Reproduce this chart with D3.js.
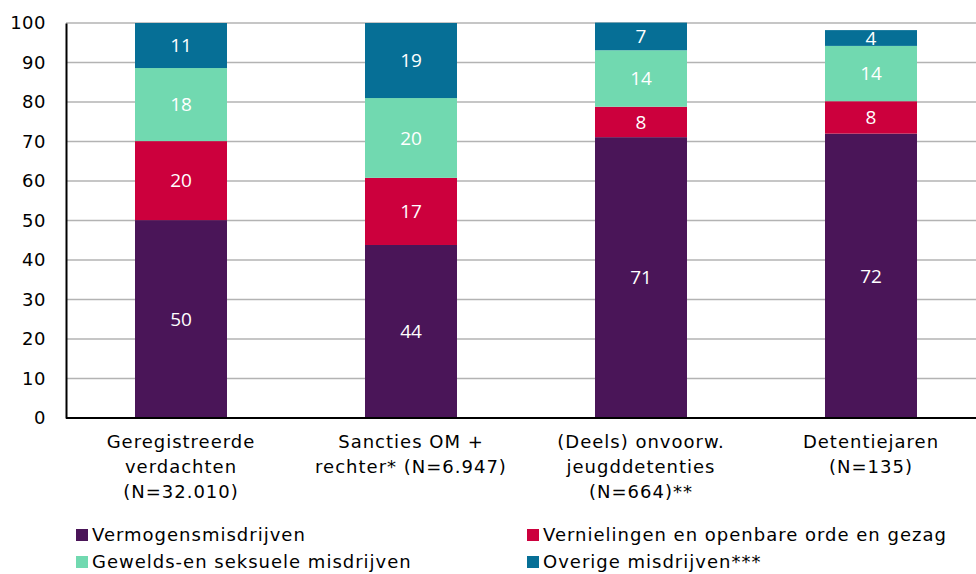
<!DOCTYPE html>
<html>
<head>
<meta charset="utf-8">
<script src="https://cdn.jsdelivr.net/npm/d3@7"></script>
<style>
  body { margin: 0; background: #fff; }
  text { font-family: "DejaVu Sans", Verdana, sans-serif; }
</style>
</head>
<body>
<div id="container"></div>
<script>
// Data
const categories = [
  ["Geregistreerde", "verdachten", "(N=32.010)"],
  ["Sancties OM +", "rechter*  (N=6.947)"],
  ["(Deels) onvoorw.", "jeugddetenties", "(N=664)**"],
  ["Detentiejaren", "(N=135)"]
];
const seriesNames = ["Vermogensmisdrijven", "Vernielingen en openbare orde en gezag", "Gewelds-en seksuele misdrijven", "Overige misdrijven***"];
const vermogens = [50.1, 43.8, 71.1, 72.0];
const vernielingen = [20.0, 17.0, 7.7, 8.2];
const geweld = [18.5, 20.2, 14.3, 14.0];
const overige = [11.4, 19.0, 7.0, 4.0];
const labels = [
  [50, 44, 71, 72],
  [20, 17, 8, 8],
  [18, 20, 14, 14],
  [11, 19, 7, 4]
];
const yTicks = [0, 10, 20, 30, 40, 50, 60, 70, 80, 90, 100];
const colors = ["#4a1558", "#cc003d", "#71d9b0", "#066f96"];

const width = 976, height = 574;
const marginLeft = 66, plotTop = 23, plotBottom = 418;

const svg = d3.create("svg").attr("width", width).attr("height", height);

const x = d3.scaleBand()
  .domain(d3.range(categories.length))
  .range([marginLeft, marginLeft + 4 * 230])
  .paddingInner(0.6).paddingOuter(0.3);

const y = d3.scaleLinear().domain([0, 100]).range([plotBottom, plotTop]);

// gridlines
svg.append("g")
  .selectAll("line")
  .data(yTicks.filter(d => d > 0))
  .join("line")
  .attr("x1", marginLeft).attr("x2", width)
  .attr("y1", d => y(d)).attr("y2", d => y(d))
  .attr("stroke", "#b3b3b3").attr("stroke-width", 1.5);

// stacked bars
const rows = categories.map((c, i) => ({
  i, s0: vermogens[i], s1: vernielingen[i], s2: geweld[i], s3: overige[i]
}));
const stack = d3.stack().keys(["s0", "s1", "s2", "s3"])(rows);

const layers = svg.append("g").selectAll("g")
  .data(stack).join("g")
  .attr("fill", (d, k) => colors[k]);

layers.selectAll("rect")
  .data(d => d)
  .join("rect")
  .attr("x", d => x(d.data.i))
  .attr("width", x.bandwidth())
  .attr("y", d => y(d[1]))
  .attr("height", d => y(d[0]) - y(d[1]));

layers.selectAll("text")
  .data((d, k) => d.map(p => ({ p, k })))
  .join("text")
  .attr("x", d => x(d.p.data.i) + x.bandwidth() / 2)
  .attr("y", d => (y(d.p[0]) + y(d.p[1])) / 2)
  .attr("dy", "0.36em")
  .attr("text-anchor", "middle")
  .attr("fill", "#fff")
  .style("font-family", "'Open Sans', sans-serif")
  .style("font-size", "19px")
  .text(d => labels[d.k][d.p.data.i]);

// y axis
const yAxis = svg.append("g")
  .attr("transform", `translate(${marginLeft},0)`)
  .call(d3.axisLeft(y).tickValues(yTicks).tickSize(0).tickPadding(20));
yAxis.select(".domain").attr("stroke", "#000").attr("stroke-width", 2);
yAxis.selectAll("text")
  .style("font-size", "18px")
  .style("letter-spacing", "0.5px")
  .attr("fill", "#000");

// baseline
svg.append("line")
  .attr("x1", marginLeft).attr("x2", width)
  .attr("y1", y(0)).attr("y2", y(0))
  .attr("stroke", "#000").attr("stroke-width", 2);

// category labels
const cat = svg.append("g").selectAll("text")
  .data(categories).join("text")
  .attr("x", (d, i) => x(i) + x.bandwidth() / 2)
  .attr("y", 448)
  .attr("text-anchor", "middle")
  .style("font-size", "18px")
  .style("letter-spacing", "1px")
  .attr("fill", "#000");
cat.selectAll("tspan")
  .data(d => d).join("tspan")
  .attr("x", function () { return this.parentNode.getAttribute("x"); })
  .attr("dy", (d, j) => j === 0 ? 0 : 25)
  .text(d => d);

// legend
const legendPos = [[76, 535], [527, 535], [76, 562], [527, 562]];
const legend = svg.append("g").selectAll("g")
  .data(seriesNames).join("g")
  .attr("transform", (d, i) => `translate(${legendPos[i][0]},${legendPos[i][1]})`);
legend.append("rect")
  .attr("x", 0).attr("y", -6).attr("width", 12).attr("height", 12)
  .attr("fill", (d, i) => colors[i]);
legend.append("text")
  .attr("x", 16).attr("dy", "0.36em")
  .style("font-size", "18px")
  .style("letter-spacing", "1px")
  .attr("fill", "#000")
  .text(d => d);

document.getElementById("container").append(svg.node());
</script>
</body>
</html>
